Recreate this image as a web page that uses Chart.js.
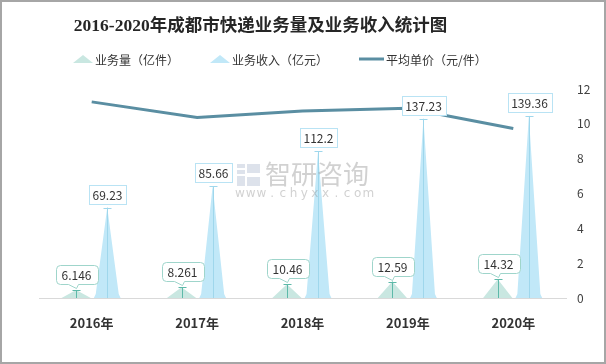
<!DOCTYPE html>
<html>
<head>
<meta charset="utf-8">
<script src="https://cdn.jsdelivr.net/npm/chart.js@4.4.0/dist/chart.umd.min.js"></script>
<style>
  html, body { margin: 0; padding: 0; background: #fff; }
  #wrap { width: 606px; height: 364px; }
</style>
</head>
<body>
<div id="wrap"><canvas id="myChart" width="606" height="364"></canvas></div>
<script>
// data
const years = ['2016年', '2017年', '2018年', '2019年', '2020年'];
const volume = [6.146, 8.261, 10.46, 12.59, 14.32];        // 业务量（亿件）
const revenue = [69.23, 85.66, 112.2, 137.23, 139.36];     // 业务收入（亿元）
const avgPrice = [11.26, 10.37, 10.73, 10.90, 9.73];       // 平均单价（元/件）
const priceTicks = [0, 2, 4, 6, 8, 10, 12];
const seriesNames = ['业务量（亿件）', '业务收入（亿元）', '平均单价（元/件）'];
const titleText = '2016-2020年成都市快递业务量及业务收入统计图';

const FONT = '"Noto Sans CJK SC", "Noto Sans", sans-serif';
const VOL_FILL = '#c9e7e1', VOL_LINE = '#5db9a9', VOL_BOX = '#9fd5cb';
const REV_FILL = '#c1e8f8', REV_LINE = '#9fd7ec', REV_BOX = '#b9e3f4';
const PRICE_LINE = '#5a8ea2';

function spikePath(ctx, x, y, base, w, flare) {
  const h = base - y;
  ctx.beginPath();
  ctx.moveTo(x - w / 2, base);
  if (flare) {
    const fh = Math.min(4, h * 0.05);
    ctx.lineTo(x - w * 0.43, base - fh);
    ctx.lineTo(x, y);
    ctx.lineTo(x + w * 0.43, base - fh);
  } else {
    ctx.lineTo(x, y);
  }
  ctx.lineTo(x + w / 2, base);
  ctx.closePath();
}

const spikes = {
  id: 'spikes',
  beforeDatasetDraw(chart, args) {
    if (args.meta.type !== 'bar') return;
    const ds = chart.data.datasets[args.index];
    const ctx = chart.ctx;
    ctx.save();
    args.meta.data.forEach(el => {
      const p = el.getProps(['x', 'y', 'base', 'width'], true);
      spikePath(ctx, p.x, p.y, p.base, p.width, ds.flare);
      ctx.fillStyle = ds.fillColor;
      ctx.fill();
    });
    ctx.restore();
    return false;
  },
  afterDatasetsDraw(chart) {
    const ctx = chart.ctx;
    ctx.save();
    ctx.font = '12px ' + FONT;
    ctx.textAlign = 'center';
    ctx.textBaseline = 'middle';
    chart.data.datasets.forEach((ds, i) => {
      if (ds.type === 'line') return;
      const meta = chart.getDatasetMeta(i);
      meta.data.forEach((el, j) => {
        const p = el.getProps(['x', 'y', 'base'], true);
        const x = Math.round(p.x) + 0.5;
        // stem with cap
        ctx.strokeStyle = ds.stemColor;
        ctx.lineWidth = 1;
        ctx.beginPath();
        ctx.moveTo(x, p.base);
        ctx.lineTo(x, p.y);
        ctx.moveTo(x - 4, Math.round(p.y) + 0.5);
        ctx.lineTo(x + 4, Math.round(p.y) + 0.5);
        ctx.stroke();
        // label box
        const txt = String(ds.data[j]);
        const tw = ctx.measureText(txt).width;
        ctx.fillStyle = '#fff';
        ctx.strokeStyle = ds.boxColor;
        if (ds.flare) {
          const bw = Math.round(tw + 7), bh = 19;
          const bx = Math.round(x - bw / 2) + 0.5, by = Math.round(p.y - 4 - bh) + 0.5;
          ctx.fillRect(bx, by, bw, bh);
          ctx.strokeRect(bx, by, bw, bh);
          ctx.fillStyle = '#333';
          ctx.fillText(txt, x, by + bh / 2 + 0.5);
        } else {
          const bw = Math.round(tw + 12), bh = 19;
          const bx = Math.round(x - bw / 2) + 0.5, by = Math.round(p.y - 6 - bh) + 0.5;
          const r = 4, bb = by + bh;
          ctx.beginPath();
          ctx.moveTo(bx + r, by);
          ctx.lineTo(bx + bw - r, by);
          ctx.arcTo(bx + bw, by, bx + bw, by + r, r);
          ctx.lineTo(bx + bw, bb - r);
          ctx.arcTo(bx + bw, bb, bx + bw - r, bb, r);
          ctx.lineTo(x + 2, bb);
          ctx.lineTo(x, bb + 4);
          ctx.lineTo(x - 8, bb);
          ctx.lineTo(bx + r, bb);
          ctx.arcTo(bx, bb, bx, bb - r, r);
          ctx.lineTo(bx, by + r);
          ctx.arcTo(bx, by, bx + r, by, r);
          ctx.closePath();
          ctx.fill();
          ctx.stroke();
          ctx.fillStyle = '#333';
          ctx.fillText(txt, x, by + bh / 2 + 0.5);
        }
      });
    });
    ctx.restore();
  },
  afterDraw(chart) {
    const ctx = chart.ctx;
    ctx.save();
    // title
    ctx.fillStyle = '#262626';
    ctx.font = 'bold 17.5px "Liberation Serif", "Noto Sans CJK SC", serif';
    ctx.textAlign = 'center';
    ctx.textBaseline = 'middle';
    ctx.fillText(titleText, 260.5, 26);

    // legend
    ctx.font = '12px ' + FONT;
    ctx.textAlign = 'left';
    let lx = 73;
    const ly = 60;
    seriesNames.forEach((name, i) => {
      if (i < 2) {
        ctx.fillStyle = i === 0 ? VOL_FILL : REV_FILL;
        ctx.beginPath();
        ctx.moveTo(lx, ly + 3);
        ctx.lineTo(lx + 10, ly - 5);
        ctx.lineTo(lx + 20, ly + 3);
        ctx.closePath();
        ctx.fill();
        lx += 22;
      } else {
        ctx.strokeStyle = PRICE_LINE;
        ctx.lineWidth = 3;
        ctx.beginPath();
        ctx.moveTo(lx, ly - 1);
        ctx.lineTo(lx + 25, ly - 1);
        ctx.stroke();
        lx += 27;
      }
      ctx.fillStyle = '#333';
      ctx.fillText(name, lx, ly);
      lx += ctx.measureText(name).width + 31;
    });

    // watermark
    ctx.globalAlpha = 0.4;
    ctx.fillStyle = '#aab6cc';
    ctx.fillRect(237, 164, 8, 4);
    ctx.fillRect(237, 170, 8, 4);
    ctx.fillRect(237, 176, 8, 10);
    ctx.fillRect(247, 164, 13, 9);
    ctx.fillRect(247, 177, 13, 9);
    ctx.fillStyle = '#8c8c8c';
    ctx.font = '26px ' + FONT;
    ctx.textBaseline = 'middle';
    ctx.fillText('智研咨询', 265, 174);
    ctx.font = '12px "DejaVu Sans", sans-serif';
    ctx.textAlign = 'center';
    'www.chyxx.com'.split('').forEach((c, i) => ctx.fillText(c, 240 + i * 10.7, 194));
    ctx.globalAlpha = 1;

    // frame
    ctx.strokeStyle = '#a6a6a6';
    ctx.lineWidth = 2;
    ctx.strokeRect(1, 1, 604, 362);
    ctx.restore();
  }
};

const ctx = document.getElementById('myChart');

const myChart = new Chart(ctx, {
  type: 'bar',
  data: {
    labels: years,
    datasets: [{
      type: 'line',
      label: seriesNames[2],
      data: avgPrice,
      yAxisID: 'y1',
      borderColor: PRICE_LINE,
      borderWidth: 3,
      pointRadius: 0,
      tension: 0,
      order: 0
    }, {
      label: seriesNames[0],
      data: volume,
      yAxisID: 'y',
      fillColor: VOL_FILL,
      stemColor: VOL_LINE,
      boxColor: VOL_BOX,
      flare: false,
      backgroundColor: VOL_FILL,
      categoryPercentage: 0.59,
      barPercentage: 0.94,
      order: 1
    }, {
      label: seriesNames[1],
      data: revenue,
      yAxisID: 'y',
      fillColor: REV_FILL,
      stemColor: REV_LINE,
      boxColor: REV_BOX,
      flare: true,
      backgroundColor: REV_FILL,
      categoryPercentage: 0.59,
      barPercentage: 0.86,
      order: 1
    }]
  },
  options: {
    responsive: false,
    animation: false,
    layout: { padding: { top: 89, left: 39, right: 0, bottom: 26 } },
    plugins: {
      legend: { display: false },
      title: { display: false },
      tooltip: { enabled: false }
    },
    scales: {
      x: {
        grid: { display: false, drawTicks: false },
        border: { display: true, color: '#d9d9d9', width: 1 },
        ticks: { color: '#333', padding: 17, font: { family: FONT, size: 13, weight: 'bold' } },
        afterFit(scale) { scale.height = 40; }
      },
      y: {
        display: false,
        min: 0,
        max: 160
      },
      y1: {
        position: 'right',
        min: 0,
        max: 12,
        grid: { display: false, drawTicks: false },
        border: { display: false },
        afterBuildTicks(scale) { scale.ticks = priceTicks.map(v => ({ value: v })); },
        ticks: { color: '#404040', padding: 11, font: { family: FONT, size: 12 } },
        afterFit(scale) { scale.width = 40; }
      }
    }
  },
  plugins: [spikes]
});
</script>
</body>
</html>
